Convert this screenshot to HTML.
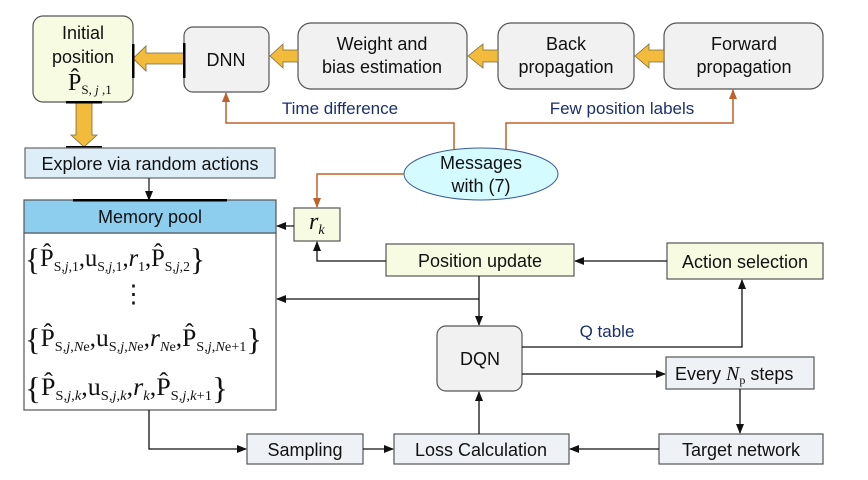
<!DOCTYPE html>
<html><head><meta charset="utf-8"><style>
html,body{margin:0;padding:0;background:#fff;}
svg{display:block;}
.s{font-family:"Liberation Sans",sans-serif;font-size:18px;fill:#111;}
.m{font-family:"Liberation Serif",serif;fill:#111;}
.b{font-family:"Liberation Sans",sans-serif;font-size:17px;fill:#1b2f6e;}
</style></head><body>
<svg width="868" height="480" viewBox="0 0 868 480" xmlns="http://www.w3.org/2000/svg">
<defs>
<marker id="ak" markerWidth="10" markerHeight="8" refX="9" refY="4" orient="auto" markerUnits="userSpaceOnUse"><path d="M0,0 L10,4 L0,8 Z" fill="#111"/></marker>
<marker id="ao" markerWidth="10" markerHeight="8" refX="9" refY="4" orient="auto" markerUnits="userSpaceOnUse"><path d="M0,0 L10,4 L0,8 Z" fill="#c0602a"/></marker>
</defs>

<rect x="33" y="16" width="100" height="86" rx="10" fill="#f7fbe2" stroke="#555" stroke-width="1.2"/>
<text class="s" x="83" y="39" text-anchor="middle">Initial</text>
<text class="s" x="83" y="63" text-anchor="middle">position</text>
<text class="m" x="68" y="90" font-size="24">P̂<tspan font-size="13" dy="4">S, <tspan font-style="italic">j</tspan> ,1</tspan></text>

<rect x="184" y="27" width="85" height="65" rx="9" fill="#f1f1f1" stroke="#555" stroke-width="1.2"/>
<text class="s" x="226" y="66" text-anchor="middle">DNN</text>

<rect x="298" y="23" width="169" height="66" rx="13" fill="#f1f1f1" stroke="#555" stroke-width="1.2"/>
<text class="s" x="382" y="50" text-anchor="middle">Weight and</text>
<text class="s" x="382" y="73" text-anchor="middle">bias estimation</text>

<rect x="498" y="23" width="136" height="66" rx="13" fill="#f1f1f1" stroke="#555" stroke-width="1.2"/>
<text class="s" x="566" y="50" text-anchor="middle">Back</text>
<text class="s" x="566" y="73" text-anchor="middle">propagation</text>

<rect x="664" y="23" width="159" height="66" rx="13" fill="#f1f1f1" stroke="#555" stroke-width="1.2"/>
<text class="s" x="744" y="50" text-anchor="middle">Forward</text>
<text class="s" x="744" y="73" text-anchor="middle">propagation</text>

<path d="M184,53 L146,53 L146,46 L133,58.5 L146,71 L146,64 L184,64 Z" fill="#f2bb3c" stroke="#7a6a3a" stroke-width="0.8"/>
<path d="M298,50 L283,50 L283,44 L270,56 L283,68 L283,62 L298,62 Z" fill="#f2bb3c" stroke="#7a6a3a" stroke-width="0.8"/>
<path d="M498,50 L483,50 L483,44 L468,56 L483,68 L483,62 L498,62 Z" fill="#f2bb3c" stroke="#7a6a3a" stroke-width="0.8"/>
<path d="M664,50 L649,50 L649,44 L635,56 L649,68 L649,62 L664,62 Z" fill="#f2bb3c" stroke="#7a6a3a" stroke-width="0.8"/>
<path d="M76,102 L92,102 L92,135 L97,135 L84,147 L71,135 L76,135 Z" fill="#f2bb3c" stroke="#7a6a3a" stroke-width="0.8"/>
<rect x="132" y="44" width="2.5" height="34" fill="#000"/>
<rect x="183" y="43" width="2.5" height="35" fill="#000"/>
<rect x="66" y="101" width="36" height="2.5" fill="#000"/>
<rect x="66" y="146" width="36" height="2.5" fill="#000"/>

<rect x="25" y="148" width="250" height="30" fill="#deeef8" stroke="#666" stroke-width="1.2"/>
<text class="s" x="150" y="170" text-anchor="middle">Explore via random actions</text>
<line x1="149" y1="178" x2="149" y2="200" stroke="#111" stroke-width="1.2" marker-end="url(#ak)"/>

<rect x="24" y="233" width="252" height="177" fill="#fff" stroke="#555" stroke-width="1.2"/>
<rect x="24" y="200" width="252" height="33" fill="#8dcdee" stroke="#555" stroke-width="1.2"/>
<rect x="73" y="199" width="154" height="2.5" fill="#000"/>
<text class="s" x="150" y="223" text-anchor="middle">Memory pool</text>

<g class="m" font-size="25">
<text x="25" y="266" textLength="180" lengthAdjust="spacingAndGlyphs"><tspan font-size="32" dy="4">{</tspan><tspan dy="-4">P̂</tspan><tspan font-size="14" dy="5">S,<tspan font-style="italic">j</tspan>,1</tspan><tspan dy="-5">,u</tspan><tspan font-size="14" dy="5">S,<tspan font-style="italic">j</tspan>,1</tspan><tspan dy="-5">,</tspan><tspan font-style="italic">r</tspan><tspan font-size="14" dy="5">1</tspan><tspan dy="-5">,P̂</tspan><tspan font-size="14" dy="5">S,<tspan font-style="italic">j</tspan>,2</tspan><tspan font-size="32" dy="-1">}</tspan></text>
<text x="121" y="302">⋮</text>
<text x="25" y="346" textLength="237" lengthAdjust="spacingAndGlyphs"><tspan font-size="32" dy="4">{</tspan><tspan dy="-4">P̂</tspan><tspan font-size="14" dy="5">S,<tspan font-style="italic">j</tspan>,<tspan font-style="italic">N</tspan>e</tspan><tspan dy="-5">,u</tspan><tspan font-size="14" dy="5">S,<tspan font-style="italic">j</tspan>,<tspan font-style="italic">N</tspan>e</tspan><tspan dy="-5">,</tspan><tspan font-style="italic">r</tspan><tspan font-size="14" dy="5"><tspan font-style="italic">N</tspan>e</tspan><tspan dy="-5">,P̂</tspan><tspan font-size="14" dy="5">S,<tspan font-style="italic">j</tspan>,<tspan font-style="italic">N</tspan>e+1</tspan><tspan font-size="32" dy="-1">}</tspan></text>
<text x="25" y="395" textLength="203" lengthAdjust="spacingAndGlyphs"><tspan font-size="32" dy="4">{</tspan><tspan dy="-4">P̂</tspan><tspan font-size="14" dy="5">S,<tspan font-style="italic">j</tspan>,<tspan font-style="italic">k</tspan></tspan><tspan dy="-5">,u</tspan><tspan font-size="14" dy="5">S,<tspan font-style="italic">j</tspan>,<tspan font-style="italic">k</tspan></tspan><tspan dy="-5">,</tspan><tspan font-style="italic">r</tspan><tspan font-size="14" dy="5" font-style="italic">k</tspan><tspan dy="-5">,P̂</tspan><tspan font-size="14" dy="5">S,<tspan font-style="italic">j</tspan>,<tspan font-style="italic">k</tspan>+1</tspan><tspan font-size="32" dy="-1">}</tspan></text>
</g>

<rect x="294" y="208" width="46" height="33" fill="#f7fbe2" stroke="#555" stroke-width="1.2"/>
<text class="m" x="309" y="229" font-size="24" font-style="italic">r<tspan font-size="14" dy="5">k</tspan></text>
<line x1="294" y1="226" x2="277" y2="226" stroke="#111" stroke-width="1.3" marker-end="url(#ak)"/>

<ellipse cx="481" cy="174" rx="77" ry="26" fill="#d4fbff" stroke="#3a5a9a" stroke-width="1"/>
<text class="s" x="481" y="169" text-anchor="middle">Messages</text>
<text class="s" x="481" y="192" text-anchor="middle">with (7)</text>

<polyline points="454,149 454,123 226,123 226,93" fill="none" stroke="#c0602a" stroke-width="1.5" marker-end="url(#ao)"/>
<polyline points="506,149 506,123 733,123 733,90" fill="none" stroke="#c0602a" stroke-width="1.5" marker-end="url(#ao)"/>
<polyline points="404,174 317,174 317,207" fill="none" stroke="#c0602a" stroke-width="1.5" marker-end="url(#ao)"/>
<text class="b" x="340" y="114" text-anchor="middle">Time difference</text>
<text class="b" x="622" y="114" text-anchor="middle">Few position labels</text>

<rect x="386" y="244" width="188" height="32" fill="#f7fbe2" stroke="#555" stroke-width="1.2"/>
<text class="s" x="480" y="267" text-anchor="middle">Position update</text>
<rect x="667" y="243" width="156" height="36" fill="#f7fbe2" stroke="#555" stroke-width="1.2"/>
<text class="s" x="745" y="268" text-anchor="middle">Action selection</text>
<line x1="667" y1="261" x2="575" y2="261" stroke="#111" stroke-width="1.3" marker-end="url(#ak)"/>
<polyline points="386,261 317,261 317,242" fill="none" stroke="#111" stroke-width="1.3" marker-end="url(#ak)"/>
<line x1="479" y1="299" x2="277" y2="299" stroke="#111" stroke-width="1.3" marker-end="url(#ak)"/>
<line x1="479" y1="276" x2="479" y2="325" stroke="#111" stroke-width="1.3" marker-end="url(#ak)"/>

<rect x="437" y="326" width="85" height="65" rx="9" fill="#f1f1f1" stroke="#555" stroke-width="1.2"/>
<text class="s" x="480" y="365" text-anchor="middle">DQN</text>
<polyline points="522,347 742,347 742,280" fill="none" stroke="#111" stroke-width="1.3" marker-end="url(#ak)"/>
<text class="b" x="607" y="337" text-anchor="middle">Q table</text>
<line x1="522" y1="374" x2="665" y2="374" stroke="#111" stroke-width="1.3" marker-end="url(#ak)"/>

<rect x="666" y="357" width="148" height="32" fill="#eef2f6" stroke="#555" stroke-width="1.2"/>
<text class="s" x="675" y="380">Every <tspan class="m" font-style="italic" font-size="20">N</tspan><tspan class="m" font-size="12" dy="4">p</tspan><tspan dy="-4"> steps</tspan></text>
<line x1="740" y1="389" x2="740" y2="433" stroke="#111" stroke-width="1.3" marker-end="url(#ak)"/>

<rect x="659" y="434" width="164" height="30" fill="#eef2f6" stroke="#555" stroke-width="1.2"/>
<text class="s" x="741" y="456" text-anchor="middle">Target network</text>
<rect x="394" y="434" width="175" height="30" fill="#eef2f6" stroke="#555" stroke-width="1.2"/>
<text class="s" x="481" y="456" text-anchor="middle">Loss Calculation</text>
<rect x="247" y="434" width="116" height="30" fill="#eef2f6" stroke="#555" stroke-width="1.2"/>
<text class="s" x="305" y="456" text-anchor="middle">Sampling</text>

<line x1="659" y1="449" x2="570" y2="449" stroke="#111" stroke-width="1.3" marker-end="url(#ak)"/>
<line x1="363" y1="449" x2="393" y2="449" stroke="#111" stroke-width="1.3" marker-end="url(#ak)"/>
<line x1="479" y1="434" x2="479" y2="392" stroke="#111" stroke-width="1.3" marker-end="url(#ak)"/>
<polyline points="149,410 149,449 246,449" fill="none" stroke="#111" stroke-width="1.3" marker-end="url(#ak)"/>
</svg>
</body></html>
